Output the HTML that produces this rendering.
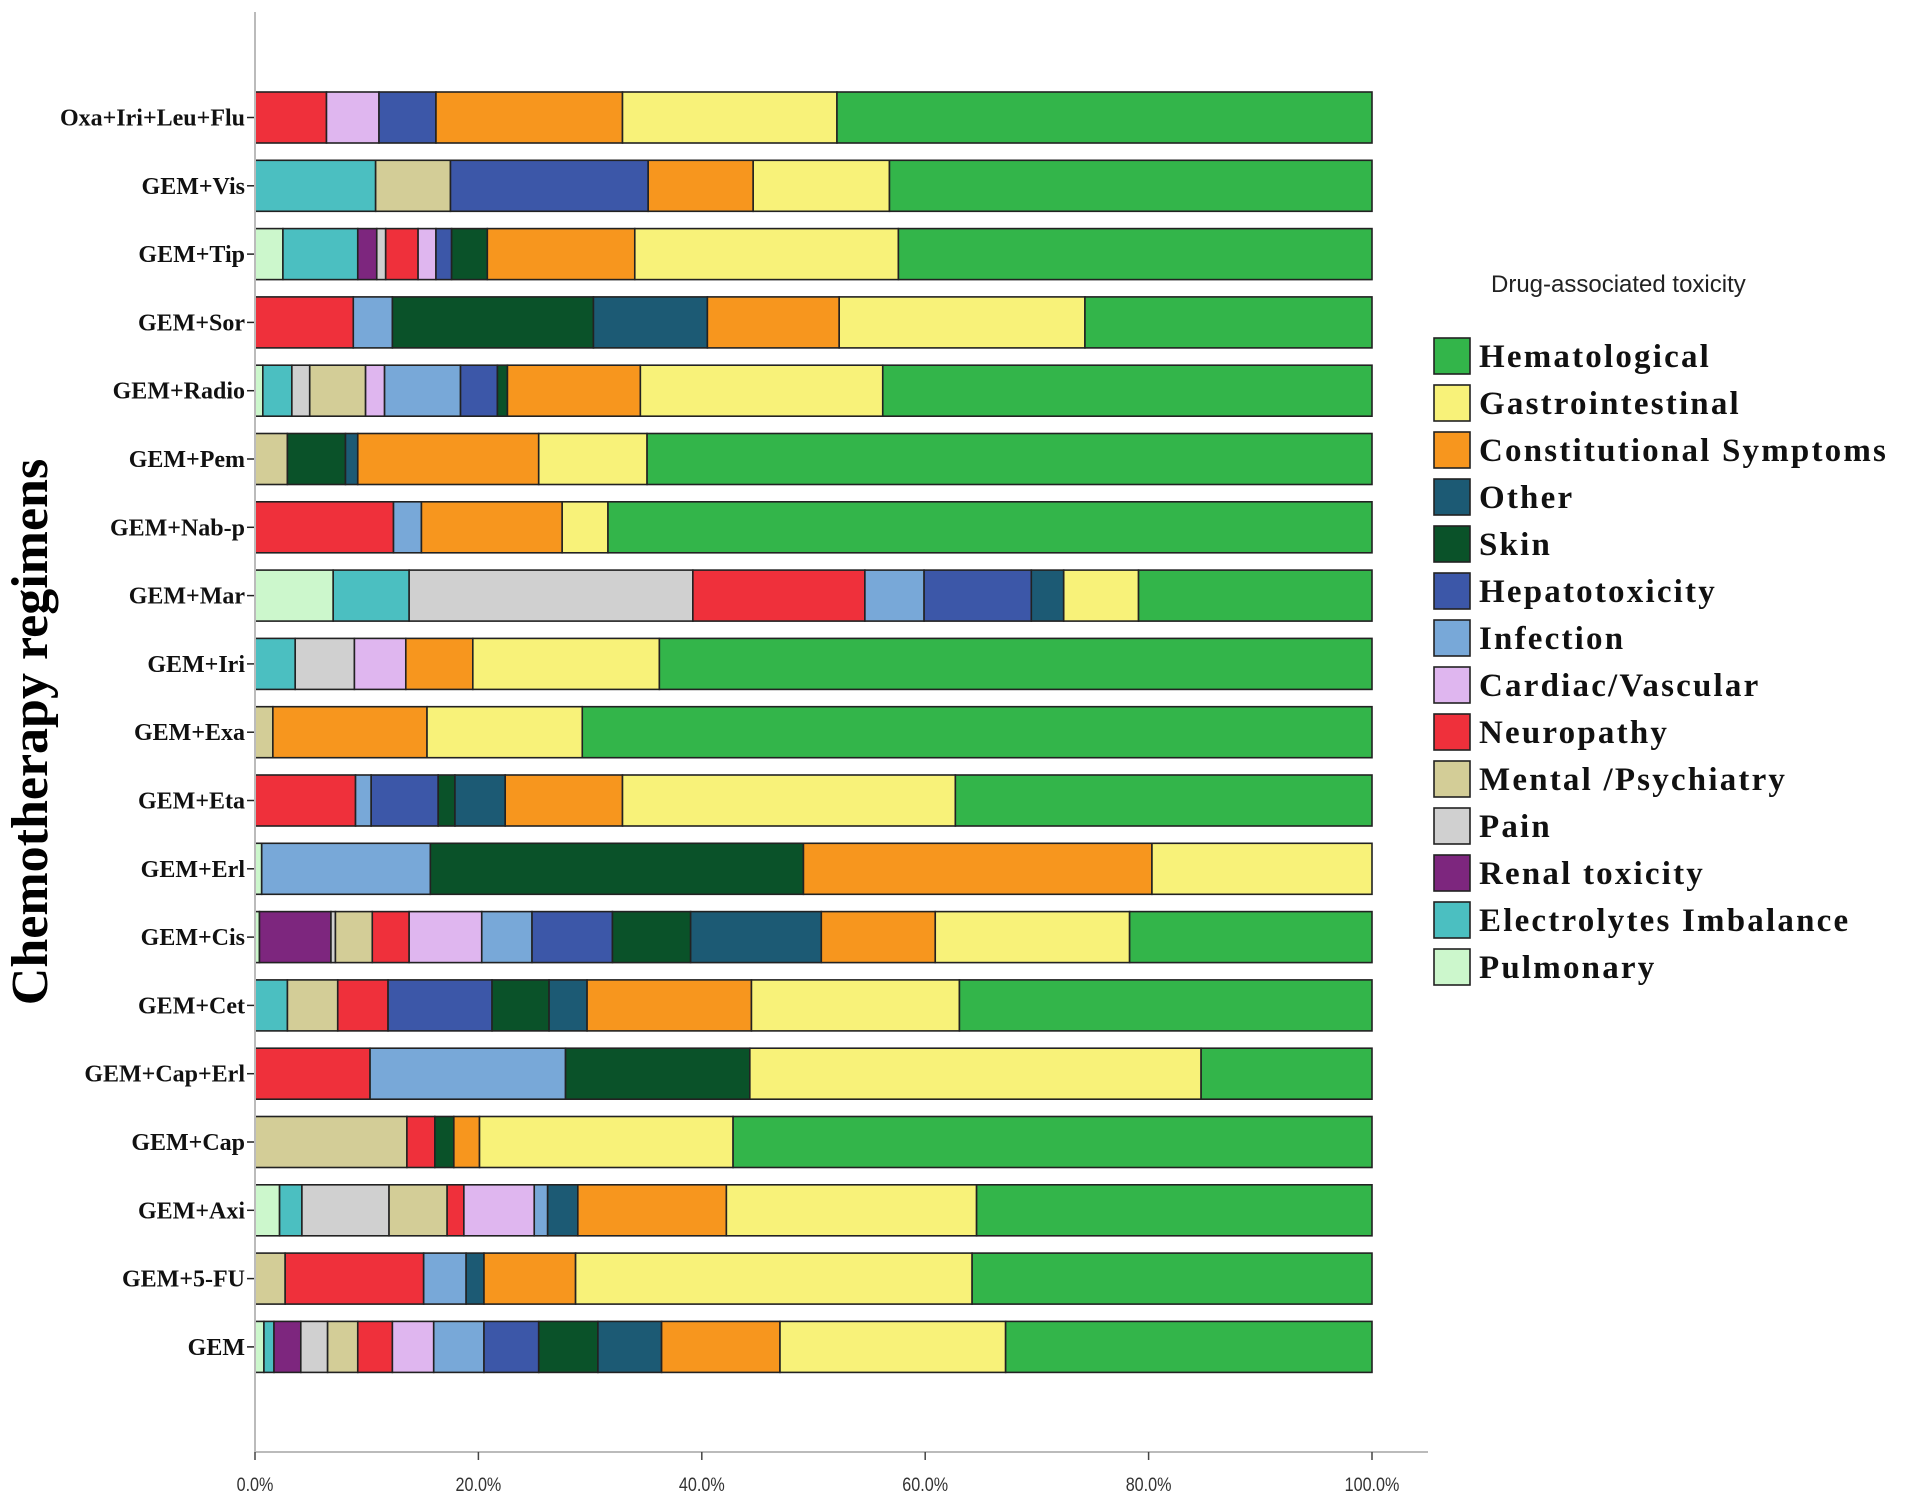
<!DOCTYPE html>
<html><head><meta charset="utf-8"><style>
html,body{margin:0;padding:0;background:#fff;}
svg{display:block;}
</style></head><body>
<svg id="chart" width="1913" height="1502" xmlns="http://www.w3.org/2000/svg">
<g id="bars"></g>
<g id="yaxis"></g>
<g id="xaxis"></g>
<text transform="translate(47,732) rotate(-90)" text-anchor="middle" font-family="Liberation Serif, serif" font-weight="bold" font-size="52">Chemotherapy  regimens</text>
<g id="legend"></g>
</svg>
<script>
const categories=["Oxa+Iri+Leu+Flu","GEM+Vis","GEM+Tip","GEM+Sor","GEM+Radio","GEM+Pem","GEM+Nab-p","GEM+Mar","GEM+Iri","GEM+Exa","GEM+Eta","GEM+Erl","GEM+Cis","GEM+Cet","GEM+Cap+Erl","GEM+Cap","GEM+Axi","GEM+5-FU","GEM"];
const seriesNames=["Pulmonary","Electrolytes Imbalance","Renal toxicity","Pain","Mental /Psychiatry","Neuropathy","Cardiac/Vascular","Infection","Hepatotoxicity","Skin","Other","Constitutional Symptoms","Gastrointestinal","Hematological"];
const seriesColors=["#ccf7cc","#4bbfc1","#7d267e","#d0d0d0","#d3cd97","#ef303b","#dfb6ef","#78a8d8","#3c57a8","#0a5229","#1c5a74","#f7961e","#f8f279","#33b54a"];
const pulmonary=[0,0,2.5,0,0.7,0,0,7.0,0,0,0,0.6,0.4,0,0,0,2.2,0,0.8];
const electrolytes=[0,10.8,6.7,0,2.6,0,0,6.8,3.6,0,0,0,0,2.9,0,0,2.0,0,0.9];
const renal=[0,0,1.7,0,0,0,0,0,0,0,0,0,6.4,0,0,0,0,0,2.4];
const pain=[0,0,0.8,0,1.6,0,0,25.4,5.3,0,0,0,0.4,0,0,0,7.8,0,2.4];
const mental=[0,6.7,0,0,5.0,2.9,0,0,0,1.6,0,0,3.3,4.5,0,13.6,5.2,2.7,2.7];
const neuropathy=[6.4,0,2.9,8.8,0,0,12.4,15.4,0,0,9.0,0,3.3,4.5,10.3,2.5,1.5,12.4,3.1];
const cardiac=[4.7,0,1.6,0,1.7,0,0,0,4.6,0,0,0,6.5,0,0,0,6.3,0,3.7];
const infection=[0,0,0,3.5,6.8,0,2.5,5.3,0,0,1.4,15.1,4.5,0,17.5,0,1.2,3.8,4.5];
const hepato=[5.1,17.7,1.4,0,3.3,0,0,9.6,0,0,6.0,0,7.2,9.3,0,0,0,0,4.9];
const skin=[0,0,3.2,18.0,0.9,5.2,0,0,0,0,1.5,33.4,7.0,5.1,16.5,1.7,0,0,5.3];
const other=[0,0,0,10.2,0,1.1,0,2.9,0,0,4.5,0,11.7,3.4,0,0,2.7,1.6,5.7];
const constitutional=[16.7,9.4,13.2,11.8,11.9,16.2,12.6,0,6.0,13.8,10.5,31.2,10.2,14.7,0,2.3,13.3,8.2,10.6];
const gastro=[19.2,12.2,23.6,22.0,21.7,9.7,4.1,6.7,16.7,13.9,29.8,19.7,17.4,18.6,40.4,22.7,22.4,35.5,20.2];
const hema=[47.9,43.2,42.4,25.7,43.8,64.9,68.4,20.9,63.8,70.7,37.3,0,21.7,36.9,15.3,57.2,35.4,35.8,32.8];
const series=[pulmonary,electrolytes,renal,pain,mental,neuropathy,cardiac,infection,hepato,skin,other,constitutional,gastro,hema];
const tickValues=[0,20,40,60,80,100];
const tickLabels=["0.0%","20.0%","40.0%","60.0%","80.0%","100.0%"];

const NS="http://www.w3.org/2000/svg";
const X0=255,X1=1372,TOP=92,PITCH=68.3,BH=51;
const xs=v=>X0+(X1-X0)*v/100;
const ys=i=>TOP+i*PITCH;
function mk(tag,attrs,parent){const e=document.createElementNS(NS,tag);for(const k in attrs)e.setAttribute(k,attrs[k]);parent.appendChild(e);return e;}
const bars=document.getElementById('bars'),yax=document.getElementById('yaxis'),xax=document.getElementById('xaxis'),leg=document.getElementById('legend');

categories.forEach((c,i)=>{
  const total=series.reduce((s,a)=>s+a[i],0);
  let cum=0;
  series.forEach((arr,j)=>{
    const v=arr[i]/total*100;
    if(v<=0)return;
    const r=mk('rect',{x:xs(cum),y:ys(i),width:xs(cum+v)-xs(cum),height:BH,fill:seriesColors[j],stroke:'#222','stroke-width':1.6},bars);
    
    
    cum+=v;
  });
  const t=mk('text',{x:X0-10,y:ys(i)+BH/2+8,'text-anchor':'end','font-family':'Liberation Serif, serif','font-weight':'bold','font-size':24,fill:'#111'},yax);
  t.textContent=c;
  
  
  const tk=mk('line',{x1:X0-8,x2:X0,y1:ys(i)+BH/2,y2:ys(i)+BH/2,stroke:'#222','stroke-width':1.5},yax);
  
  
});
const yl=mk('line',{x1:X0,x2:X0,y1:12,y2:1452,stroke:'#bbb','stroke-width':2},yax);


const xl=mk('line',{x1:X0,x2:1428,y1:1452,y2:1452,stroke:'#bbb','stroke-width':2},xax);


tickValues.forEach((v,i)=>{
  const l=mk('line',{x1:xs(v),x2:xs(v),y1:1452,y2:1460,stroke:'#444','stroke-width':1.5},xax);
  
  
  const t=mk('text',{x:xs(v),y:1491,'text-anchor':'middle','font-family':'Liberation Sans, sans-serif','font-size':19,fill:'#333',transform:`translate(${xs(v)},0) scale(0.85,1) translate(${-xs(v)},0)`},xax);
  t.textContent=tickLabels[i];
  
  
});
const lt=mk('text',{x:1491,y:292,'font-family':'Liberation Sans, sans-serif','font-size':24,fill:'#222'},leg);
lt.textContent='Drug-associated toxicity';


for(let k=0;k<14;k++){
  const j=13-k;
  const y=338+k*47;
  const r=mk('rect',{x:1434,y:y,width:36,height:36,fill:seriesColors[j],stroke:'#222','stroke-width':1.6},leg);
  
  
  const t=mk('text',{x:1479,y:y+29,'font-family':'Liberation Serif, serif','font-weight':'bold','font-size':33,'letter-spacing':'2.2',fill:'#111'},leg);
  t.textContent=seriesNames[j];
  
  
}
</script>
</body></html>
